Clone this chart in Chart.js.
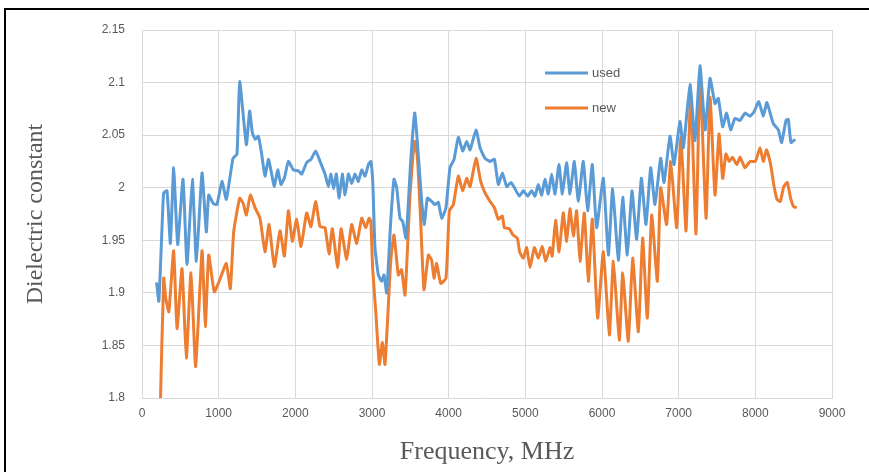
<!DOCTYPE html>
<html><head><meta charset="utf-8">
<script src="https://cdn.jsdelivr.net/npm/chart.js@4.4.0/dist/chart.umd.min.js"></script>
<style>
html,body{margin:0;padding:0;background:#fff;overflow:hidden;width:869px;height:472px}
#frame{position:absolute;left:4px;top:8px;width:900px;height:500px;border:2px solid #000;box-sizing:border-box}
#wrap{position:absolute;left:0;top:0;width:869px;height:472px}
</style></head><body>
<div id="frame"></div>
<div id="wrap"><canvas id="c" width="869" height="472"></canvas></div>
<script>
// ---- data ----
const seriesNames = ['used', 'new'];
const freqUsed = [190,220,260,283,326,370,413,465,535,587,657,709,783,839,870,930,978,1043,1100,1187,1239,1274,1361,1404,1440,1478,1517,1561,1604,1648,1683,1726,1770,1813,1860,1909,1974,2039,2083,2148,2204,2265,2322,2387,2431,2465,2500,2535,2570,2613,2648,2692,2735,2779,2822,2866,2909,2953,2985,3010,3039,3083,3126,3157,3191,3244,3287,3322,3365,3400,3444,3505,3557,3591,3648,3683,3722,3778,3822,3865,3909,3965,4017,4070,4126,4183,4235,4279,4357,4409,4474,4539,4596,4648,4700,4757,4813,4865,4922,4974,5030,5082,5126,5169,5213,5256,5300,5343,5387,5439,5483,5539,5582,5639,5691,5756,5813,5874,5930,6017,6083,6139,6213,6270,6330,6391,6452,6513,6574,6635,6691,6765,6809,6887,6939,7017,7061,7148,7213,7278,7345,7409,7474,7517,7574,7626,7678,7735,7800,7865,7930,7982,8045,8104,8150,8234,8300,8343,8400,8430,8465,8520];
const valUsed = [1.910,1.892,1.960,1.995,1.997,1.947,2.019,1.946,2.008,1.927,2.008,1.930,2.014,1.958,1.993,1.985,1.984,2.006,1.989,2.028,2.032,2.101,2.041,2.073,2.052,2.046,2.049,2.032,2.011,2.027,2.016,2.001,2.017,2.003,2.010,2.025,2.017,2.016,2.013,2.024,2.027,2.035,2.025,2.013,2.001,2.013,1.999,2.013,1.990,2.013,1.993,2.013,2.004,2.013,2.006,2.017,2.011,2.022,2.025,2.005,1.943,1.917,1.911,1.917,1.900,1.968,2.008,2.000,1.971,1.968,1.952,2.025,2.071,2.044,1.987,1.965,1.990,1.987,1.984,1.986,1.971,1.981,2.019,2.027,2.048,2.035,2.044,2.036,2.055,2.038,2.028,2.025,2.027,2.003,2.014,2.001,2.005,1.999,1.992,1.997,1.992,1.997,1.992,2.003,1.993,2.008,1.994,2.013,1.994,2.022,1.994,2.024,1.994,2.025,1.987,2.025,1.978,2.022,1.962,2.009,1.936,1.999,1.931,1.991,1.936,1.997,1.951,2.009,1.965,2.019,1.984,2.028,2.005,2.049,2.022,2.063,2.038,2.098,2.045,2.116,2.055,2.104,2.080,2.085,2.058,2.071,2.055,2.066,2.064,2.071,2.068,2.072,2.082,2.068,2.081,2.061,2.055,2.043,2.064,2.065,2.043,2.046];
const freqNew = [235,283,310,350,413,457,522,578,639,700,783,826,870,943,1022,1100,1152,1196,1274,1320,1361,1413,1474,1539,1604,1657,1726,1800,1857,1909,1961,2017,2074,2148,2204,2265,2322,2387,2439,2483,2552,2596,2670,2735,2800,2866,2918,2962,2985,3009,3052,3096,3135,3170,3244,3287,3343,3385,3431,3496,3553,3591,3635,3678,3735,3778,3809,3843,3896,3965,4009,4061,4126,4183,4235,4279,4357,4418,4474,4539,4596,4648,4700,4726,4790,4839,4896,4926,4974,5017,5061,5117,5169,5221,5265,5321,5350,5395,5439,5495,5539,5582,5626,5669,5713,5769,5822,5874,5943,6017,6096,6148,6226,6270,6343,6400,6474,6530,6591,6648,6722,6765,6843,6896,6974,7030,7096,7157,7226,7278,7357,7409,7474,7526,7574,7617,7660,7700,7760,7800,7865,7930,8000,8061,8104,8147,8200,8240,8282,8326,8370,8417,8460,8500,8540];
const valNew = [1.780,1.914,1.895,1.882,1.940,1.866,1.923,1.838,1.919,1.830,1.940,1.868,1.936,1.901,1.914,1.928,1.904,1.958,1.990,1.985,1.974,1.993,1.981,1.971,1.939,1.965,1.925,1.959,1.935,1.978,1.949,1.970,1.944,1.976,1.963,1.987,1.963,1.962,1.937,1.961,1.924,1.961,1.932,1.965,1.947,1.971,1.962,1.971,1.968,1.923,1.879,1.832,1.853,1.832,1.930,1.955,1.917,1.922,1.898,1.993,2.044,2.030,1.968,1.903,1.936,1.931,1.914,1.928,1.909,1.914,1.978,1.984,2.011,1.997,2.009,2.001,2.028,2.006,1.995,1.987,1.981,1.970,1.973,1.962,1.961,1.955,1.952,1.939,1.933,1.943,1.924,1.943,1.933,1.944,1.930,1.943,1.935,1.969,1.939,1.976,1.949,1.980,1.954,1.978,1.930,1.976,1.911,1.970,1.876,1.939,1.860,1.930,1.855,1.919,1.854,1.933,1.863,1.952,1.876,1.974,1.911,2.000,1.965,2.025,1.962,2.048,1.959,2.090,1.956,2.106,1.971,2.086,1.993,2.051,2.009,2.032,2.025,2.029,2.022,2.029,2.019,2.025,2.025,2.038,2.025,2.036,2.022,2.003,1.989,1.987,2.001,2.005,1.990,1.982,1.981];
const xTickValues = [0,1000,2000,3000,4000,5000,6000,7000,8000,9000];
const xTickLabels = ['0','1000','2000','3000','4000','5000','6000','7000','8000','9000'];
const yTickValues = [1.8,1.85,1.9,1.95,2.0,2.05,2.1,2.15];
const yTickLabels = ['1.8','1.85','1.9','1.95','2','2.05','2.1','2.15'];
const xTitle = 'Frequency, MHz';
const yTitle = 'Dielectric constant';

const toPts = (xs, ys) => xs.map((x, i) => ({x: x, y: ys[i]}));

const legendPlugin = {
  id: 'inlegend',
  afterDatasetsDraw(chart) {
    const ctx = chart.ctx;
    chart.data.datasets.forEach((ds, i) => {
      const y = 73 + i * 35;
      ctx.save();
      ctx.strokeStyle = ds.borderColor; ctx.lineWidth = 3;
      ctx.beginPath(); ctx.moveTo(545, y); ctx.lineTo(588, y); ctx.stroke();
      ctx.fillStyle = '#595959'; ctx.font = '13px "Liberation Sans"';
      ctx.textBaseline = 'middle'; ctx.textAlign = 'left';
      ctx.fillText(ds.label, 592, y);
      ctx.restore();
    });
  }
};

const gridCol = '#d9d9d9';
new Chart(document.getElementById('c'), {
  type: 'line',
  data: {
    datasets: [
      {label: seriesNames[0], data: toPts(freqUsed, valUsed), borderColor: '#5B9BD5', borderWidth: 3, pointRadius: 0, tension: 0.15, fill: false, borderJoinStyle: 'round'},
      {label: seriesNames[1], data: toPts(freqNew, valNew), borderColor: '#ED7D31', borderWidth: 3, pointRadius: 0, tension: 0.15, fill: false, borderJoinStyle: 'round'}
    ]
  },
  plugins: [legendPlugin],
  options: {
    responsive: false, animation: false, devicePixelRatio: 1,
    layout: {padding: {top: 30, right: 37, left: 0, bottom: 0}},
    plugins: {legend: {display: false}, tooltip: {enabled: false}},
    scales: {
      x: {
        type: 'linear', min: 0, max: 9000,
        afterBuildTicks: s => { s.ticks = xTickValues.map(v => ({value: v})); },
        afterFit: s => { s.height = 74; },
        ticks: {callback: (v, i) => xTickLabels[i], color: '#595959', font: {family: 'Liberation Sans', size: 12}, padding: 8, maxRotation: 0, autoSkip: false},
        grid: {color: gridCol, lineWidth: 1, drawTicks: false},
        border: {color: gridCol},
        title: {display: true, text: xTitle, color: '#595959', font: {family: 'Liberation Serif', size: 26}, padding: {top: 0, bottom: 4}}
      },
      y: {
        type: 'linear', min: 1.8, max: 2.15,
        afterBuildTicks: s => { s.ticks = yTickValues.map(v => ({value: v})); },
        afterFit: s => { s.width = 142; },
        ticks: {callback: (v, i) => yTickLabels[i], color: '#595959', font: {family: 'Liberation Sans', size: 12}, padding: 17, autoSkip: false},
        grid: {color: gridCol, lineWidth: 1, drawTicks: false},
        border: {color: gridCol},
        title: {display: true, text: yTitle, color: '#595959', font: {family: 'Liberation Serif', size: 24}, padding: {top: 21, bottom: 0}}
      }
    }
  }
});
</script>
</body></html>
